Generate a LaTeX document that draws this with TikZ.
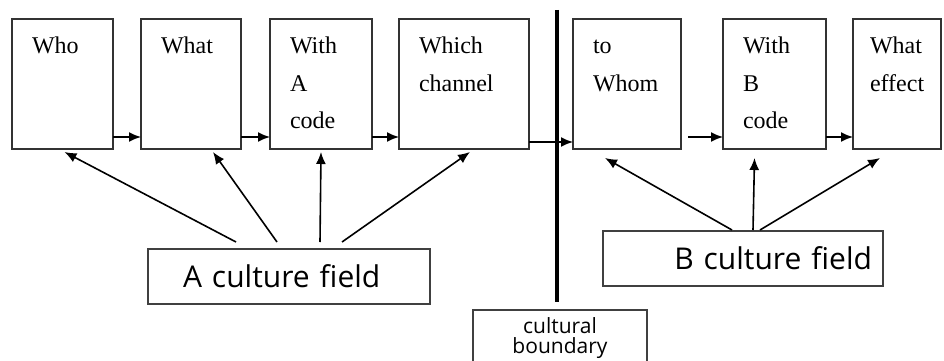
\documentclass[tikz,border=0pt]{standalone}
\usepackage{fontspec}
\setmainfont{Liberation Serif}
\newfontfamily\fieldfont{Open Sans}
\usetikzlibrary{arrows.meta, positioning}
\tikzset{
  stage/.style = {
    rectangle, draw=black!80, line width=1.5pt, outer sep=0pt,
    inner xsep=20pt, inner ysep=0pt, align=left,
    text height=35pt, text depth=95pt,
    font=\fontsize{24}{37}\selectfont
  },
  field/.style = {
    rectangle, draw=black!75, line width=1.4pt, outer sep=0pt,
    minimum height=55pt, inner ysep=0pt, anchor=north west,
    font=\fieldfont\fontsize{30}{34}\selectfont
  },
  boundbox/.style = {
    rectangle, draw=black!75, line width=1.4pt, outer sep=0pt,
    inner xsep=20pt, inner ysep=0pt, align=center,
    text height=23pt, text depth=37pt, anchor=north west,
    font=\fieldfont\fontsize{21}{20}\selectfont
  },
  myarrow/.style = {-{Latex[length=12pt,width=10pt]}, line width=1.6pt},
  boundary/.style = {line width=4.5pt}
}

\begin{document}
\begin{tikzpicture}[x=1pt, y=-1pt]
\useasboundingbox (0,0) rectangle (944,361);
\clip (0,0) rectangle (944,361);

% ----- NODES (top row) -----
\node[stage, anchor=north west, text width=61pt] (who) at (12,19) {Who};
\node[stage, right=28pt of who,    text width=60pt] (what)   {What};
\node[stage, right=29pt of what,   text width=62pt] (witha)  {With\\ A\\ code};
\node[stage, right=27pt of witha,  text width=90pt] (which)  {Which\\ channel};
\node[stage, right=44pt of which,  text width=68pt] (towhom) {to\\ Whom};
\node[stage, right=42pt of towhom, text width=63pt] (withb)  {With\\ B\\ code};
\node[stage, right=27pt of withb,  text width=54pt, inner xsep=17pt] (effect) {What\\ effect};

% ----- NODES (fields and boundary) -----
\node[field, text width=212pt, inner xsep=35pt, align=left]  (afield) at (148,249) {A culture field};
\node[field, text width=258pt, inner xsep=11pt, align=right] (bfield) at (603,231) {B culture field};
\node[boundbox, text width=134pt] (bound) at (473,310) {cultural\\ boundary};

% ----- BOUNDARY LINE -----
\coordinate (btop) at (557,10);
\draw[boundary, shorten >=8pt] (btop) -- (btop |- bound.north);

% ----- ARROWS (top row) -----
\draw[myarrow] ([yshift=12pt]who.south east)   -- ([yshift=12pt]what.south west);
\draw[myarrow] ([yshift=12pt]what.south east)  -- ([yshift=12pt]witha.south west);
\draw[myarrow] ([yshift=12pt]witha.south east) -- ([yshift=12pt]which.south west);
\draw[myarrow] ([yshift=7pt]which.south east)  -- ([yshift=7pt]towhom.south west);
\draw[myarrow, shorten <=7pt] ([yshift=12pt]towhom.south east) -- ([yshift=12pt]withb.south west);
\draw[myarrow] ([yshift=12pt]withb.south east) -- ([yshift=12pt]effect.south west);

% A culture field --> sender side
\draw[myarrow] ([xshift=-53pt,yshift=7pt]afield.north) -- ([xshift=2pt,yshift=-3pt]who.south);
\draw[myarrow] ([xshift=-12pt,yshift=7pt]afield.north) -- ([xshift=22pt,yshift=-3pt]what.south);
\draw[myarrow] ([xshift=31pt,yshift=7pt]afield.north)  -- ([yshift=-3pt]witha.south);
\draw[myarrow] ([xshift=53pt,yshift=7pt]afield.north)  -- ([xshift=6pt,yshift=-3pt]which.south);

% B culture field --> receiver side
\draw[myarrow] ([xshift=-11pt,yshift=1pt]bfield.north) -- ([xshift=-22pt,yshift=-9pt]towhom.south);
\draw[myarrow] ([xshift=10pt,yshift=1pt]bfield.north)  -- ([xshift=-20pt,yshift=-9pt]withb.south);
\draw[myarrow] ([xshift=17pt,yshift=1pt]bfield.north)  -- ([xshift=-17pt,yshift=-9pt]effect.south);

\end{tikzpicture}
\end{document}
